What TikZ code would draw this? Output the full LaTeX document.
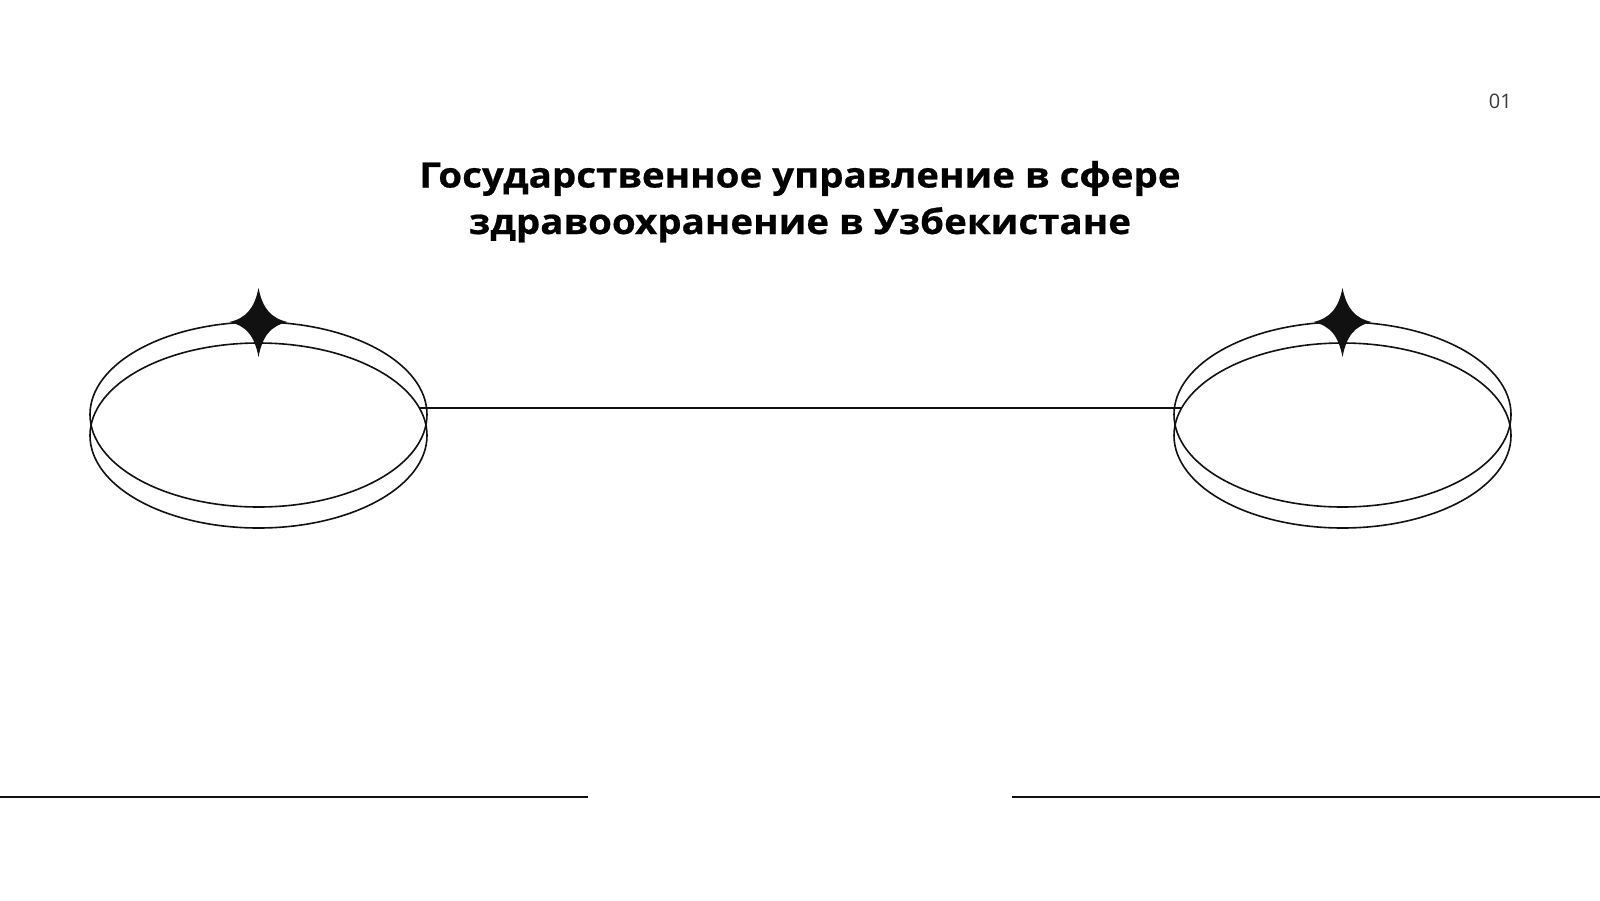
\documentclass[tikz,border=0pt]{standalone}
\usepackage{fontspec}
\setmainfont{Open Sans}
\newfontfamily\titlefont[FakeStretch=1.1,FakeBold=0.6]{Open Sans}
\usetikzlibrary{shapes.geometric,calc}
\definecolor{ink}{HTML}{111111}
\definecolor{numgray}{HTML}{3A3A3A}
\tikzset{
  ring/.style={draw=ink, line width=1.6pt, ellipse, minimum width=337pt, minimum height=185pt, inner sep=0pt, outer sep=0pt},
  rule/.style={draw=ink, line width=1.8pt},
  titletext/.style={font=\titlefont\fontsize{35}{46}\selectfont\bfseries, text=black, anchor=base, inner sep=0pt},
  pics/sparkle/.style={code={
    \fill[ink] (0,-34) .. controls (4,-14) and (12,-4) .. (29,0)
      .. controls (12,4) and (4,14) .. (0,35)
      .. controls (-4,14) and (-12,4) .. (-29,0)
      .. controls (-12,-4) and (-4,-14) .. cycle;
  }}
}
\begin{document}
\begin{tikzpicture}[x=1pt,y=-1pt]
\useasboundingbox[fill=white] (0,0) rectangle (1600,900);
% title
\node[titletext] (title1) at (800,187.5) {Государственное управление в сфере};
\node[titletext] (title2) at (800,234) {здравоохранение в Узбекистане};
\node[font=\fontsize{20}{22}\selectfont, text=numgray, anchor=base east, inner sep=0pt] (num) at (1512,108.7) {01};
% left pair of rings
\node[ring] (lA) at (258.5,414.5) {};
\node[ring] (lB) at (258.5,435.5) {};
% right pair of rings
\node[ring] (rA) at (1342.5,414.5) {};
\node[ring] (rB) at (1342.5,435.5) {};
% stars
\pic at (258.5,322) {sparkle};
\pic at (1342.5,322) {sparkle};
% connector
\draw[rule] ($(lB.center)+(160.9,-27.5)$) -- ($(rB.center)+(-160.9,-27.5)$);
% bottom rules
\coordinate (bl0) at (0,797);
\coordinate (bl1) at (588,797);
\coordinate (br0) at (1012,797);
\coordinate (br1) at (1600,797);
\draw[rule] (bl0) -- (bl1);
\draw[rule] (br0) -- (br1);
\end{tikzpicture}
\end{document}
